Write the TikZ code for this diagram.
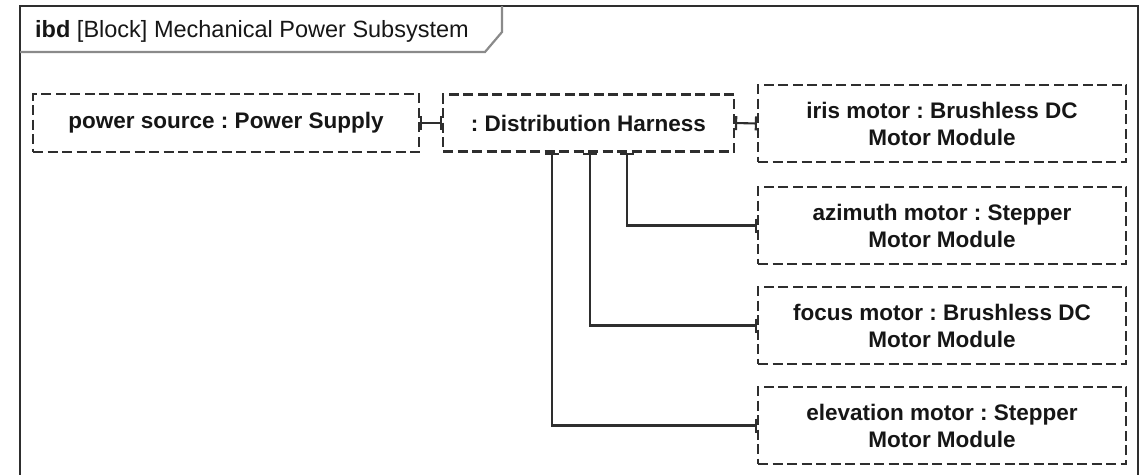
\documentclass[tikz,border=0pt]{standalone}
\usepackage{fontspec}
\setmainfont{Liberation Sans}
\frenchspacing
\usetikzlibrary{arrows.meta}
\definecolor{ink}{HTML}{161616}
\definecolor{linec}{HTML}{2E2E2E}
\definecolor{tabline}{HTML}{8A8A8A}
\begin{document}
\begin{tikzpicture}[x=1pt,y=-1pt,
  part/.style={draw=linec, line width=2.1pt, dash pattern=on 10pt off 4.5pt,
    text=ink, font=\fontsize{22.5}{27}\selectfont\bfseries, align=center,
    inner sep=0pt, anchor=center},
  conn/.style={draw=linec, line width=2.1pt,
    {Bar[width=14pt,line width=2.1pt]}-{Bar[width=14pt,line width=2.1pt]}},
  frameline/.style={draw=linec, line width=2.6pt},
]
\useasboundingbox (0,0) rectangle (1148,474);
\clip (0,0) rectangle (1148,474);

% diagram frame (runs on below the page edge)
\draw[frameline] (20,490) -- (20,6) -- (1138,6) -- (1138,490);
% title tab
\draw[draw=tabline, line width=2.2pt] (20,52) -- (485,52) -- (502,32) -- (502,6);
\node[anchor=base west, inner sep=0pt, text=ink, font=\fontsize{23.5}{28}\selectfont]
  (title) at (35,37) {\textbf{ibd} [Block] Mechanical Power Subsystem};

% parts
\node[part, minimum width=386pt, minimum height=58pt] (power) at (226,123)
  {power source : Power Supply};
\node[part, minimum width=291pt, minimum height=57pt] (harness) at (588.5,123)
  {: Distribution Harness};
\node[part, minimum width=368pt, minimum height=77pt] (iris) at (942,123.5)
  {iris motor : Brushless DC\\Motor Module};
\node[part, minimum width=368pt, minimum height=77pt] (azimuth) at (942,225.5)
  {azimuth motor : Stepper\\Motor Module};
\node[part, minimum width=368pt, minimum height=77pt] (focus) at (942,325.5)
  {focus motor : Brushless DC\\Motor Module};
\node[part, minimum width=368pt, minimum height=77pt] (elevation) at (942,425.5)
  {elevation motor : Stepper\\Motor Module};

% connectors
\draw[conn] (power.east) -- (harness.west);
\draw[conn] (harness.east) -- (iris.west);
\draw[conn] ([xshift=38.5pt]harness.south) |- (azimuth.west);
\draw[conn] ([xshift=1.5pt]harness.south) |- (focus.west);
\draw[conn] ([xshift=-36.5pt]harness.south) |- (elevation.west);
\end{tikzpicture}
\end{document}
